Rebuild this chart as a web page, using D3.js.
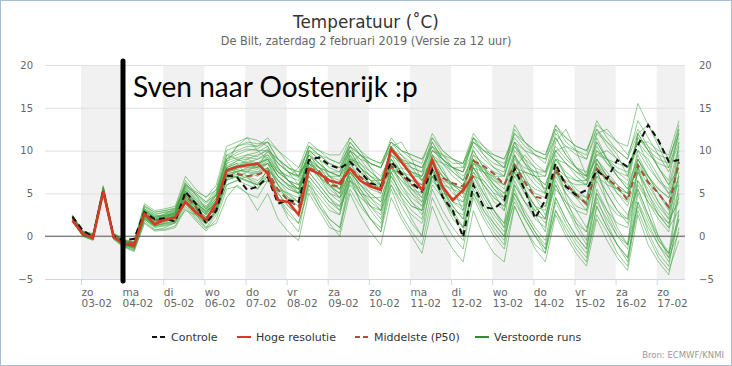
<!DOCTYPE html>
<html><head><meta charset="utf-8">
<script src="https://cdn.jsdelivr.net/npm/d3@7"></script>
<style>html,body{margin:0;padding:0;background:#fff;} svg{display:block;}</style>
</head><body><svg id="c" width="732" height="366"></svg>
<script>
// ---- data ----
const dayNames = ["zo","ma","di","wo","do","vr","za","zo","ma","di","wo","do","vr","za","zo"];
const dayDates = ["03-02","04-02","05-02","06-02","07-02","08-02","09-02","10-02","11-02","12-02","13-02","14-02","15-02","16-02","17-02"];
const yTicks = [-5, 0, 5, 10, 15, 20];
const legendLabels = ["Controle","Hoge resolutie","Middelste (P50)","Verstoorde runs"];

const controle = [2.3,0.7,-0.1,5.3,0.0,-0.5,-0.3,2.8,2.0,2.1,1.7,5.2,3.8,1.5,3.0,7.1,6.9,5.4,5.8,6.9,3.8,4.2,4.0,8.9,9.2,8.3,7.9,8.7,7.5,6.2,5.8,8.7,7.3,6.3,5.2,7.7,4.6,3.0,-0.1,6.0,3.4,3.2,4.2,7.9,5.4,2.1,4.2,8.5,5.8,4.8,5.4,7.7,6.7,8.9,8.1,10.6,13.0,11.2,8.7,8.9];
const hogeResolutie = [1.8,0.3,-0.2,5.2,-0.1,-0.9,-1.1,2.6,1.4,1.9,2.2,4.0,2.8,1.9,3.9,7.7,8.1,8.3,8.5,7.3,4.2,4.0,2.5,7.8,7.3,6.5,6.2,7.9,6.5,5.8,5.4,10.2,8.7,7.1,5.4,8.9,5.8,4.2,5.4,7.1];
const middelste = [2.1,0.4,-0.1,5.3,-0.1,-0.7,-0.8,2.6,1.8,2.0,2.0,4.8,3.4,1.7,3.4,7.0,7.3,7.0,7.2,7.6,5.4,4.2,3.4,7.9,7.6,6.0,5.8,7.9,6.9,6.0,5.4,8.2,7.2,6.0,5.5,8.0,6.8,6.2,5.8,8.8,8.2,7.3,6.0,8.3,6.3,4.6,4.4,7.7,6.2,4.8,3.8,7.9,6.7,5.8,4.2,8.3,6.3,5.0,3.4,8.7];

const verstoordeRuns = [
 [2.2,0.4,0,5.6,0.2,-0.6,-0.9, 3.0,2.2,2.4,2.6, 5.0,3.5,2.5,4.2, 8.5,9.0,9.2,9.0, 9.5,7.5,6.5,5.5, 9.0,8.0,7.0,6.5, 9.5,8.0,7.0,6.0, 10.0,8.5,7.5,7.0, 11.0,9.0,8.0,7.5, 11.5,9.5,8.0,7.0, 11.0,8.5,6.5,5.5, 9.0,7.0,5.5,4.5, 8.5,7.0,6.0,5.0, 10.0,8.0,6.5,5.0, 9.0],
 [2.0,0.1,-0.3,5.2,-0.2,-1.0,-1.4, 2.2,1.2,1.5,1.8, 4.2,2.8,1.5,3.0, 7.0,7.5,7.0,6.5, 7.5,5.0,3.5,2.5, 7.0,5.5,4.0,3.0, 7.5,6.0,4.5,3.5, 8.0,6.0,4.0,2.5, 7.0,4.5,2.0,0.5, 5.5,3.0,1.0,-0.5, 4.5,2.0,0.0,-1.5, 4.0,1.5,-0.5,-2.0, 3.5,1.0,-1.0,-2.5, 4.0,1.5,-1.0,-3.0, 2.0],
 [2.4,0.5,0.2,5.8,0.3,-0.5,-0.7, 3.5,2.8,3.0,3.2, 6.5,5.0,4.0,5.5, 10.0,10.5,10.8,10.5, 11.0,9.0,8.0,7.5, 10.5,9.5,8.5,8.0, 11.0,9.5,8.5,8.0, 11.5,10.0,9.0,8.5, 12.0,10.0,9.0,8.0, 11.0,9.5,8.5,8.0, 12.0,10.5,9.5,9.0, 13.0,11.0,10.0,9.5, 13.5,11.5,10.0,9.0, 12.0,10.0,8.0,6.0, 10.5],
 [1.8,0.0,-0.4,5.0,-0.3,-1.2,-1.6, 1.8,0.8,0.8,1.2, 3.5,2.0,0.8,2.5, 6.0,6.5,6.0,5.5, 8.0,4.5,2.0,0.5, 6.5,4.0,2.0,1.0, 7.0,4.0,2.0,0.5, 7.5,4.5,2.0,0.0, 8.0,5.0,2.5,1.0, 9.0,5.5,3.0,1.5, 9.5,5.5,2.5,0.5, 8.5,4.5,1.5,-0.5, 8.0,4.0,1.0,-1.0, 8.0,3.5,0.0,-2.5, 5.0],
 [2.1,0.3,-0.1,5.4,0.0,-0.7,-1.0, 2.8,1.8,2.2,2.8, 5.5,4.0,3.2,4.8, 8.0,8.8,9.5,9.8, 10.5,8.5,7.5,6.8, 9.5,8.5,7.5,7.0, 10.0,8.0,6.5,5.5, 9.0,7.0,5.5,4.5, 8.5,6.5,5.0,4.0, 8.0,6.0,4.5,3.5, 8.5,6.5,5.5,5.0, 10.0,8.5,7.5,7.0, 11.0,9.0,7.5,6.5, 11.5,10.5,9.5,9.0, 12.5],
 [1.9,0.2,-0.2,5.3,0.1,-0.9,-1.2, 2.4,1.5,1.8,2.0, 4.5,3.0,2.0,3.5, 7.5,7.8,7.5,7.0, 8.0,6.0,4.5,3.5, 7.5,6.0,4.5,3.0, 6.5,4.0,2.0,0.5, 5.5,2.5,0.5,-1.0, 4.5,2.0,0.0,-1.5, 5.0,2.5,0.5,-1.0, 6.0,4.0,3.0,3.5, 8.0,7.0,6.5,6.5, 10.0,9.0,8.0,7.5, 11.0,9.5,8.5,8.0, 11.5],
 [2.3,0.5,0.1,5.5,0.2,-0.6,-0.8, 3.2,2.5,2.8,3.0, 6.0,4.5,3.5,5.0, 9.0,9.5,10.0,10.2, 11.0,9.0,7.5,6.0, 8.5,6.5,5.0,4.5, 9.0,7.5,6.5,6.0, 10.5,9.0,8.0,7.5, 11.5,9.5,8.0,6.5, 9.5,7.5,5.5,4.0, 7.5,5.0,3.0,1.5, 6.0,3.5,1.5,0.5, 6.5,4.0,2.5,2.0, 8.0,6.0,4.0,2.5, 6.5],
 [2.0,0.3,-0.2,5.1,-0.1,-1.0,-1.3, 2.0,1.0,1.2,1.5, 3.8,2.2,1.0,2.8, 6.5,7.0,6.5,6.0, 7.0,5.5,4.5,4.0, 8.5,8.0,7.5,7.5, 10.5,9.5,8.5,8.0, 10.5,9.0,7.5,6.5, 9.0,7.0,5.5,4.5, 8.0,6.0,4.0,3.0, 7.0,5.0,3.5,3.0, 7.5,6.0,5.0,4.5, 9.0,7.5,6.0,5.0, 9.5,7.0,5.0,3.5, 7.0],
 [2.2,0.4,0.0,5.5,0.1,-0.7,-0.9, 2.6,1.6,1.9,2.3, 5.0,3.6,2.6,4.0, 7.5,8.0,8.5,8.5, 9.0,7.0,6.0,5.0, 8.5,7.5,6.5,6.0, 9.0,7.5,6.5,6.5, 10.0,9.0,8.5,8.0, 10.5,9.5,8.5,8.5, 11.5,10.5,9.5,9.0, 12.0,11.0,10.0,9.5, 12.5,11.5,10.5,10.0, 13.0,12.0,11.0,10.5, 15.5,13.0,11.0,9.0, 12.0],
 [1.7,0.0,-0.5,4.9,-0.4,-1.3,-1.8, 1.5,0.6,0.7,1.0, 3.2,1.8,0.6,2.0, 5.5,5.8,5.0,4.5, 6.5,5.5,5.0,4.5, 8.0,7.0,6.0,5.5, 8.5,6.5,5.0,4.0, 9.0,7.5,6.5,6.0, 9.5,7.5,6.0,5.0, 7.5,5.0,3.0,1.5, 5.5,2.5,0.5,-1.5, 3.0,0.5,-1.5,-3.0, 3.5,1.0,-1.0,-2.5, 3.0,0.0,-2.5,-4.0, -0.5],
 [2.5,0.6,0.3,5.9,0.4,-0.4,-0.6, 3.8,3.0,3.2,3.5, 7.0,5.5,4.5,6.0, 10.5,11.0,11.5,11.2, 10.5,8.0,6.5,5.5, 9.0,7.0,5.0,4.0, 8.0,5.5,3.5,2.0, 7.0,5.0,3.5,3.0, 8.5,7.0,6.0,5.5, 10.5,9.0,8.0,7.5, 12.5,11.0,10.0,9.5, 13.0,11.5,10.5,10.0, 12.5,10.5,9.0,8.0, 11.0,8.5,6.5,5.5, 10.0],
 [2.0,0.2,-0.1,5.3,0.0,-0.8,-1.1, 2.5,1.6,2.0,2.4, 4.8,3.2,2.2,3.8, 7.8,8.2,8.0,7.8, 8.5,6.5,5.0,4.0, 7.5,6.0,4.5,3.5, 6.0,4.5,3.5,3.0, 8.5,7.5,7.0,7.0, 10.0,9.0,8.0,7.5, 10.0,8.0,6.0,4.5, 8.0,5.5,3.5,2.0, 6.5,4.0,2.0,0.5, 5.0,3.0,1.5,1.0, 6.0,4.0,2.5,1.5, 4.5],
 [2.2,0.3,-0.2,5.6,-0.1,-0.9,-1.2, 2.9,2.0,2.3,2.6, 5.2,3.8,3.0,4.5, 8.2,8.8,9.0,8.5, 9.0,7.5,6.5,6.0, 10.0,9.0,8.0,7.5, 11.0,9.5,8.5,8.0, 10.5,8.5,7.0,6.0, 9.5,7.5,6.0,5.0, 9.0,7.5,6.5,6.0, 10.0,8.5,7.5,7.0, 11.5,9.5,8.0,7.0, 10.5,8.5,7.0,6.0, 9.0,7.0,5.5,4.5, 8.0],
 [1.8,0.1,-0.3,5.0,-0.2,-1.1,-1.5, 2.0,1.1,1.3,1.6, 4.0,2.5,1.4,3.0, 6.8,7.0,6.5,6.0, 6.5,4.5,3.0,1.5, 5.5,3.5,2.0,1.0, 5.5,3.5,2.0,1.0, 6.0,3.5,1.5,0.0, 5.5,3.0,1.0,-0.5, 4.5,2.0,0.0,-1.5, 3.5,1.0,-1.5,-3.0, 2.5,0.0,-2.0,-3.5, 2.0,-0.5,-2.5,-4.0, 2.5,-1.0,-3.0,-4.5, 1.0],
 [2.1,0.4,0.0,5.4,0.1,-0.6,-0.8, 3.0,2.2,2.5,2.8, 5.8,4.2,3.2,4.8, 9.0,9.8,10.2,10.0, 10.0,8.0,6.5,5.5, 9.5,8.0,6.5,5.5, 9.5,7.5,6.0,5.0, 9.5,7.5,5.5,4.0, 8.0,5.5,3.5,2.0, 7.0,4.5,2.5,1.0, 6.5,4.0,2.0,1.0, 7.0,5.0,3.5,3.0, 8.5,6.5,5.0,4.0, 9.0,7.0,5.5,4.5, 8.5],
 [1.9,0.1,-0.3,5.2,-0.1,-1.0,-1.3, 2.3,1.4,1.7,2.0, 4.6,3.0,2.0,3.5, 7.2,7.6,7.8,7.5, 8.0,6.5,5.5,5.0, 10.0,9.5,9.0,8.5, 10.5,8.5,7.0,6.0, 8.5,6.0,4.5,3.5, 7.5,5.5,4.0,3.0, 8.5,7.5,7.0,7.0, 11.0,10.0,9.5,9.0, 11.5,9.5,8.0,7.0, 9.0,7.0,5.0,3.5, 7.5,5.0,3.0,1.5, 5.5],
 [2.0,0.3,-0.1,5.3,0.0,-0.7,-0.9, 2.7,1.8,2.1,2.3, 4.9,3.4,2.2,3.8, 7.3,7.6,7.6,7.3, 8.0,6.0,4.8,4.0, 8.2,7.0,5.8,5.0, 8.5,7.0,6.0,5.5, 8.5,7.0,6.0,5.5, 8.5,7.0,6.0,5.5, 9.0,7.8,6.8,6.0, 8.5,6.5,5.0,4.5, 8.0,6.3,5.0,4.0, 8.0,6.5,5.5,4.5, 8.5,6.5,5.0,3.5, 9.0],
 [2.3,0.5,0.1,5.7,0.2,-0.5,-0.7, 3.4,2.6,2.8,3.0, 6.2,4.8,3.8,5.2, 9.5,10.0,10.5,10.5, 11.5,10.0,9.0,8.0, 11.0,10.0,9.0,8.5, 11.5,10.0,9.0,8.5, 11.0,9.5,8.5,8.0, 11.0,9.0,7.5,6.5, 10.0,8.0,6.5,5.5, 9.5,7.5,6.0,5.0, 9.0,7.5,6.5,6.0, 10.0,8.5,7.5,7.0, 11.5,10.0,9.0,8.5, 13.0],
 [1.9,0.2,-0.2,5.2,0.0,-0.9,-1.2, 2.2,1.3,1.5,1.8, 4.3,2.7,1.6,3.2, 7.0,7.2,6.8,6.2, 7.2,5.0,3.5,2.5, 6.5,5.0,3.5,2.5, 7.0,5.0,3.5,2.5, 7.5,5.5,4.0,3.0, 7.0,4.5,2.5,1.0, 6.0,3.5,1.5,0.0, 6.0,4.0,2.5,2.0, 7.5,5.5,4.5,4.0, 9.0,7.0,5.5,4.5, 9.0,6.5,4.0,2.0, 4.0],
 [2.1,0.3,0.0,5.5,0.1,-0.8,-1.0, 2.6,1.7,2.0,2.5, 5.3,3.9,2.9,4.4, 8.0,8.5,8.7,8.4, 9.2,7.8,7.0,6.5, 9.8,8.5,7.0,6.0, 8.0,6.5,5.5,5.0, 9.5,8.5,8.0,7.5, 10.5,8.5,7.0,6.0, 9.0,7.0,5.5,4.5, 9.0,8.0,7.5,7.5, 10.5,9.0,8.0,7.5, 11.0,9.0,7.0,5.5, 8.0,5.0,2.5,1.0, 3.0],
 [2.0,0.2,-0.2,5.4,-0.1,-0.9,-1.1, 2.4,1.5,1.8,2.1, 4.4,2.9,1.9,3.4, 7.4,7.9,8.2,8.0, 8.8,7.0,5.8,5.0, 9.0,7.5,6.0,5.0, 9.2,8.0,7.0,6.5, 10.0,8.0,6.0,4.5, 8.0,5.5,3.5,2.0, 6.5,4.0,2.0,0.5, 5.0,2.5,0.5,-1.0, 4.5,2.0,0.0,-1.5, 4.5,1.5,-1.0,-3.0, 5.0,2.0,-0.5,-2.0, 6.0],
 [2.4,0.6,0.2,5.6,0.3,-0.6,-0.8, 3.1,2.3,2.6,2.9, 5.6,4.3,3.4,4.9, 8.8,9.2,9.5,9.3, 10.2,8.5,7.5,7.0, 10.5,9.5,8.5,8.0, 10.0,8.0,6.5,5.5, 8.0,6.5,5.5,5.0, 9.5,8.5,8.0,8.0, 11.5,10.0,9.0,8.0, 10.5,8.5,7.0,6.0, 9.5,7.0,5.0,3.5, 7.5,5.0,3.0,1.5, 6.5,4.0,2.0,0.5, 7.5],
 [1.8,0.0,-0.4,5.1,-0.3,-1.1,-1.4, 2.1,1.2,1.4,1.7, 4.1,2.6,1.5,3.1, 6.6,6.9,6.4,6.0, 7.8,6.5,5.5,5.0, 8.8,7.5,6.0,5.0, 7.5,5.0,3.0,1.5, 6.5,4.5,3.0,2.0, 7.5,6.5,6.0,5.5, 9.5,8.5,7.5,7.0, 10.5,9.0,8.0,7.5, 12.0,10.5,9.5,9.0, 12.5,11.0,10.0,9.0, 13.5,11.5,9.5,7.5, 11.0],
 [2.2,0.4,0.0,5.5,0.1,-0.7,-0.9, 2.8,1.9,2.2,2.5, 5.1,3.7,2.7,4.2, 7.8,8.3,8.4,8.2, 8.5,6.0,4.0,2.5, 6.0,3.5,1.5,0.0, 5.0,2.5,0.5,-1.0, 4.5,2.0,0.0,-2.0, 3.5,0.5,-1.5,-3.0, 3.0,0.0,-2.0,-3.0, 3.5,1.0,-1.0,-2.0, 4.5,2.0,0.0,-1.5, 5.0,2.5,0.0,-1.5, 5.5,2.5,-0.5,-2.0, 2.0],
 [2.0,0.3,-0.1,5.4,0.0,-0.8,-1.0, 2.7,1.8,2.1,2.4, 5.0,3.6,2.5,4.0, 7.6,8.0,8.3,8.2, 9.0,7.0,6.0,5.5, 9.5,8.5,7.5,7.0, 10.5,9.5,9.0,8.5, 11.0,10.0,9.5,9.0, 11.5,10.0,9.0,8.5, 12.0,10.5,9.0,8.0, 13.0,11.0,9.5,8.5, 12.5,10.0,8.0,6.5, 11.5,9.0,7.0,5.5, 12.0,10.0,8.0,6.5, 12.5],
 [2.1,0.2,-0.1,5.5,0.1,-0.7,-1.0, 2.5,2.0,2.6,3.2, 5.8,5.0,4.0,4.8, 8.5,10.5,11.5,10.0, 9.0,7.5,7.0,8.0, 10.0,9.0,7.0,5.5, 8.5,9.5,8.0,6.0, 10.5,11.0,9.0,6.5, 9.0,8.0,5.5,3.0, 7.0,6.5,5.0,3.0, 8.0,9.5,8.0,5.0, 11.0,12.5,10.0,7.0, 12.0,11.0,9.5,7.0, 12.0,13.0,10.5,8.0, 12.0],
 [1.9,0.1,-0.4,5.0,-0.2,-1.2,-1.7, 1.6,0.7,1.0,1.6, 3.0,2.5,1.0,1.5, 4.5,6.0,5.0,3.0, 5.0,2.0,0.5,-0.5, 5.0,3.0,1.0,0.5, 6.5,5.5,4.0,3.0, 8.0,7.0,5.0,3.5, 7.0,5.5,3.0,1.0, 5.0,3.0,1.5,0.0, 4.0,2.0,0.0,-2.0, 3.0,1.0,-1.0,-2.5, 2.5,0.5,-2.0,-3.5, 4.0,0.5,-2.0,-3.5, 3.0],
 [2.3,0.4,0.1,5.6,0.2,-0.6,-0.9, 3.2,2.4,2.4,2.8, 6.2,4.8,3.2,4.4, 9.5,9.0,8.5,8.0, 10.0,9.0,8.0,7.0, 10.5,10.0,9.5,9.5, 11.5,10.0,8.0,7.0, 9.5,8.5,8.5,8.0, 10.0,9.0,8.0,7.5, 11.0,10.0,9.0,8.5, 11.0,9.0,7.0,5.5, 7.5,5.0,3.0,1.0, 4.0,2.0,0.0,-1.0, 3.5,1.0,-1.0,-2.5, 0.5],
 [2.0,0.3,-0.2,5.3,0.0,-0.8,-1.1, 2.6,1.9,2.3,2.6, 4.6,3.8,3.0,3.6, 6.5,8.0,9.0,9.5, 10.0,9.0,8.0,7.5, 8.5,7.5,6.0,4.5, 6.5,5.0,4.5,4.5, 7.5,8.0,7.5,7.0, 9.0,8.5,7.5,6.5, 8.0,7.5,6.0,5.0, 7.0,7.5,7.0,6.0, 9.0,8.5,7.5,6.5, 9.5,10.0,9.0,8.0, 10.0,9.0,7.0,5.0, 6.0],
 [2.2,0.5,0.1,5.4,0.1,-0.6,-0.9, 3.0,2.0,2.0,2.2, 4.8,3.3,2.0,3.8, 8.0,8.5,7.0,5.5, 7.0,4.5,2.5,1.5, 6.0,4.5,3.0,2.5, 8.0,7.0,6.0,6.0, 10.0,9.5,8.0,6.5, 8.5,6.0,4.0,3.5, 8.5,8.0,7.0,6.0, 9.5,7.0,4.5,2.5, 6.0,3.5,1.0,-1.0, 5.5,3.0,0.5,-1.0, 6.5,4.5,2.5,1.0, 9.5],
 [1.8,0.2,-0.3,5.2,-0.1,-0.9,-1.3, 2.3,1.3,1.9,2.4, 4.5,3.0,2.3,3.5, 6.8,7.5,8.0,8.0, 8.5,7.5,6.5,6.0, 8.0,7.0,7.0,7.0, 9.0,8.5,7.5,6.5, 8.0,6.5,5.0,4.0, 7.0,6.0,5.5,5.0, 8.0,6.5,5.0,4.5, 8.0,7.5,7.0,7.0, 10.0,10.5,10.0,9.0, 12.0,12.5,11.0,9.5, 12.5,10.5,8.0,6.0, 8.0],
 [2.1,0.3,0.0,5.6,0.1,-0.7,-1.0, 2.9,2.2,2.4,2.7, 5.3,4.0,2.8,4.0, 7.0,7.0,7.5,8.5, 9.5,8.0,6.5,5.0, 7.0,5.5,4.0,3.5, 7.5,6.0,4.5,3.0, 6.0,4.0,2.5,1.5, 6.0,4.5,3.0,2.5, 7.5,6.0,4.5,3.5, 7.5,5.5,3.5,2.0, 8.0,6.0,4.5,3.0, 7.0,5.0,3.0,2.0, 7.5,5.5,3.5,2.0, 11.0],
 [2.4,0.6,0.2,5.7,0.3,-0.5,-0.7, 3.6,2.8,3.0,3.3, 6.0,5.2,4.6,5.4, 9.0,10.5,11.0,10.8, 11.0,10.0,8.5,7.0, 9.0,8.0,7.5,7.0, 10.0,9.0,7.5,6.5, 9.0,7.5,6.5,6.0, 10.0,9.5,9.0,8.5, 11.0,10.0,9.5,9.0, 11.5,10.0,8.5,7.5, 10.0,8.5,7.0,6.0, 8.5,6.0,4.0,2.5, 5.5,2.5,0.0,-2.0, 2.5],
 [1.9,0.1,-0.3,5.1,-0.2,-1.0,-1.4, 2.0,1.2,1.6,2.2, 3.8,2.5,1.4,2.8, 6.0,6.5,7.0,7.5, 8.5,7.0,6.0,5.5, 8.5,7.0,5.5,4.5, 7.5,6.0,5.0,4.0, 7.0,5.0,3.5,3.0, 6.5,5.0,4.5,4.0, 7.0,5.0,3.0,1.0, 5.0,3.0,1.0,-0.5, 5.5,4.0,3.0,2.5, 7.0,6.0,5.5,5.0, 8.0,7.0,5.0,3.0, 7.0],
 [2.2,0.4,0.0,5.5,0.1,-0.8,-1.0, 2.7,1.8,2.2,2.6, 5.2,3.8,2.8,4.2, 7.8,8.2,8.6,9.0, 9.8,8.5,7.5,7.0, 9.5,8.0,6.5,5.5, 10.0,9.0,8.5,8.0, 11.0,10.0,9.5,9.0, 10.5,9.0,8.0,7.0, 9.0,7.5,6.0,5.0, 8.0,6.0,4.5,3.5, 7.5,6.5,6.0,6.0, 9.5,9.0,8.5,8.0, 11.0,11.0,10.0,9.5, 13.5]
];

// ---- layout ----
const W = 732, H = 366;
const plot = {left: 45, right: 685, top: 65, bottom: 279};
const svg = d3.select("#c");
const FONT = "'DejaVu Sans', 'Lucida Grande', sans-serif";

const firstRun = Date.UTC(2019, 1, 2, 19);   // first forecast step (local time)
const timeOf = i => new Date(firstRun + i * 6 * 3600e3);
const x = d3.scaleUtc()
  .domain([new Date(Date.UTC(2019, 1, 2, 3)), new Date(Date.UTC(2019, 1, 17, 16, 30))])
  .range([plot.left, plot.right]);
const y = d3.scaleLinear().domain([-5, 20]).range([plot.bottom, plot.top]);
const tickTimes = dayDates.map((d, k) => new Date(Date.UTC(2019, 1, 3 + k)));

function fitX(sel, target, ax) {
  const w = sel.node().getComputedTextLength();
  const s = target / w;
  sel.attr("transform", `translate(${ax},0) scale(${s},1) translate(${-ax},0)`);
}

// frame
svg.append("rect").attr("x", 0.5).attr("y", 0.5).attr("width", W - 1).attr("height", H - 1)
  .attr("fill", "#fff").attr("stroke", "#a9bfcf");

// titles
const t1 = svg.append("text").attr("x", 366).attr("y", 28).attr("text-anchor", "middle")
  .attr("font-family", FONT).attr("font-size", 18).attr("fill", "#333").text("Temperatuur (˚C)");
fitX(t1, 146, 366);
const t2 = svg.append("text").attr("x", 366).attr("y", 45).attr("text-anchor", "middle")
  .attr("font-family", FONT).attr("font-size", 11.5).attr("fill", "#666")
  .text("De Bilt, zaterdag 2 februari 2019 (Versie za 12 uur)");
fitX(t2, 291, 366);

// alternating day bands
const bandG = svg.append("g");
tickTimes.forEach((t, k) => {
  if (k % 2 === 0) {
    const x0 = x(t), x1 = Math.min(x(d3.utcDay.offset(t, 1)), plot.right);
    bandG.append("rect").attr("x", x0).attr("y", plot.top).attr("width", x1 - x0)
      .attr("height", plot.bottom - plot.top).attr("fill", "#f1f1f1");
  }
});

// gridlines
svg.append("g").selectAll("line").data(yTicks.filter(v => v > -5)).join("line")
  .attr("x1", plot.left).attr("x2", plot.right)
  .attr("y1", d => y(d) + 0.5).attr("y2", d => y(d) + 0.5)
  .attr("stroke", "#e0e0e0").attr("stroke-width", 1);

// y axis labels (left and right)
const yl = d3.axisLeft(y).tickValues(yTicks).tickSize(0).tickPadding(0);
const gl = svg.append("g").attr("transform", `translate(33,0)`).call(yl);
gl.select(".domain").remove();
gl.selectAll("text").attr("font-family", FONT).attr("font-size", 10).attr("fill", "#666");
const yr = d3.axisRight(y).tickValues(yTicks).tickSize(0).tickPadding(0);
const gr = svg.append("g").attr("transform", `translate(699,0)`).call(yr);
gr.select(".domain").remove();
gr.selectAll("text").attr("font-family", FONT).attr("font-size", 10).attr("fill", "#666");

// x axis
const xa = d3.axisBottom(x).tickValues(tickTimes).tickSize(6).tickFormat("");
const gx = svg.append("g").attr("transform", `translate(0,${plot.bottom})`).call(xa);
gx.select(".domain").attr("stroke", "#ccd6eb").attr("d", `M${plot.left},0.5H${plot.right}`);
gx.selectAll(".tick line").attr("stroke", "#ccd6eb");
gx.selectAll(".tick").each(function (d, k) {
  const t = d3.select(this).append("text").attr("x", 0).attr("text-anchor", "start")
    .attr("font-family", FONT).attr("font-size", 10.5).attr("fill", "#666");
  t.append("tspan").attr("x", 0).attr("y", 17).text(dayNames[k]);
  t.append("tspan").attr("x", 0).attr("y", 28).text(dayDates[k]);
});

// clip
svg.append("clipPath").attr("id", "pc").append("rect")
  .attr("x", plot.left).attr("y", plot.top - 5).attr("width", plot.right - plot.left)
  .attr("height", plot.bottom - plot.top + 10);
const lineGen = d3.line().x((d, i) => x(timeOf(i))).y(d => y(d));
const series = svg.append("g").attr("clip-path", "url(#pc)");

// ensemble
series.append("g").selectAll("path").data(verstoordeRuns).join("path")
  .attr("d", lineGen).attr("fill", "none").attr("stroke", "#3ea23e")
  .attr("stroke-width", 1).attr("stroke-opacity", 0.55);

// zero line
series.append("line").attr("x1", plot.left).attr("x2", plot.right)
  .attr("y1", y(0)).attr("y2", y(0)).attr("stroke", "#555").attr("stroke-width", 1);

// median, control, hres
series.append("path").attr("d", lineGen(middelste)).attr("fill", "none")
  .attr("stroke", "#a5533a").attr("stroke-width", 2).attr("stroke-dasharray", "6,4");
series.append("path").attr("d", lineGen(controle)).attr("fill", "none")
  .attr("stroke", "#111").attr("stroke-width", 2).attr("stroke-dasharray", "6,4");
series.append("path").attr("d", lineGen(hogeResolutie)).attr("fill", "none")
  .attr("stroke", "#d63a26").attr("stroke-width", 2.5);

// legend
const legendStyles = [
  {stroke: "#111", dash: "5,3", w: 2, x: 152},
  {stroke: "#d63a26", dash: null, w: 2, x: 237},
  {stroke: "#a5533a", dash: "5,3", w: 2, x: 355},
  {stroke: "#2e8f2e", dash: null, w: 2, x: 475}
];
const lg = svg.append("g");
legendLabels.forEach((lab, k) => {
  const st = legendStyles[k];
  const it = lg.append("g").attr("transform", `translate(${st.x},0)`);
  it.append("line").attr("x1", 0).attr("x2", 14).attr("y1", 337).attr("y2", 337)
    .attr("stroke", st.stroke).attr("stroke-width", st.w).attr("stroke-dasharray", st.dash);
  it.append("text").attr("x", 19).attr("y", 341).attr("font-family", FONT)
    .attr("font-size", 11).attr("fill", "#333").text(lab);
});

// source
svg.append("text").attr("x", 724).attr("y", 358).attr("text-anchor", "end")
  .attr("font-family", FONT).attr("font-size", 8.5).attr("fill", "#999").text("Bron: ECMWF/KNMI");

// annotation
svg.append("line").attr("x1", 123).attr("x2", 123).attr("y1", 61).attr("y2", 281)
  .attr("stroke", "#000").attr("stroke-width", 5).attr("stroke-linecap", "round");
const ann = svg.append("text").attr("x", 133).attr("y", 97)
  .attr("font-family", "Lato, 'Open Sans', sans-serif").attr("font-size", 28).attr("fill", "#000")
  .text("Sven naar Oostenrijk :p");
fitX(ann, 285, 133);
</script></body></html>
